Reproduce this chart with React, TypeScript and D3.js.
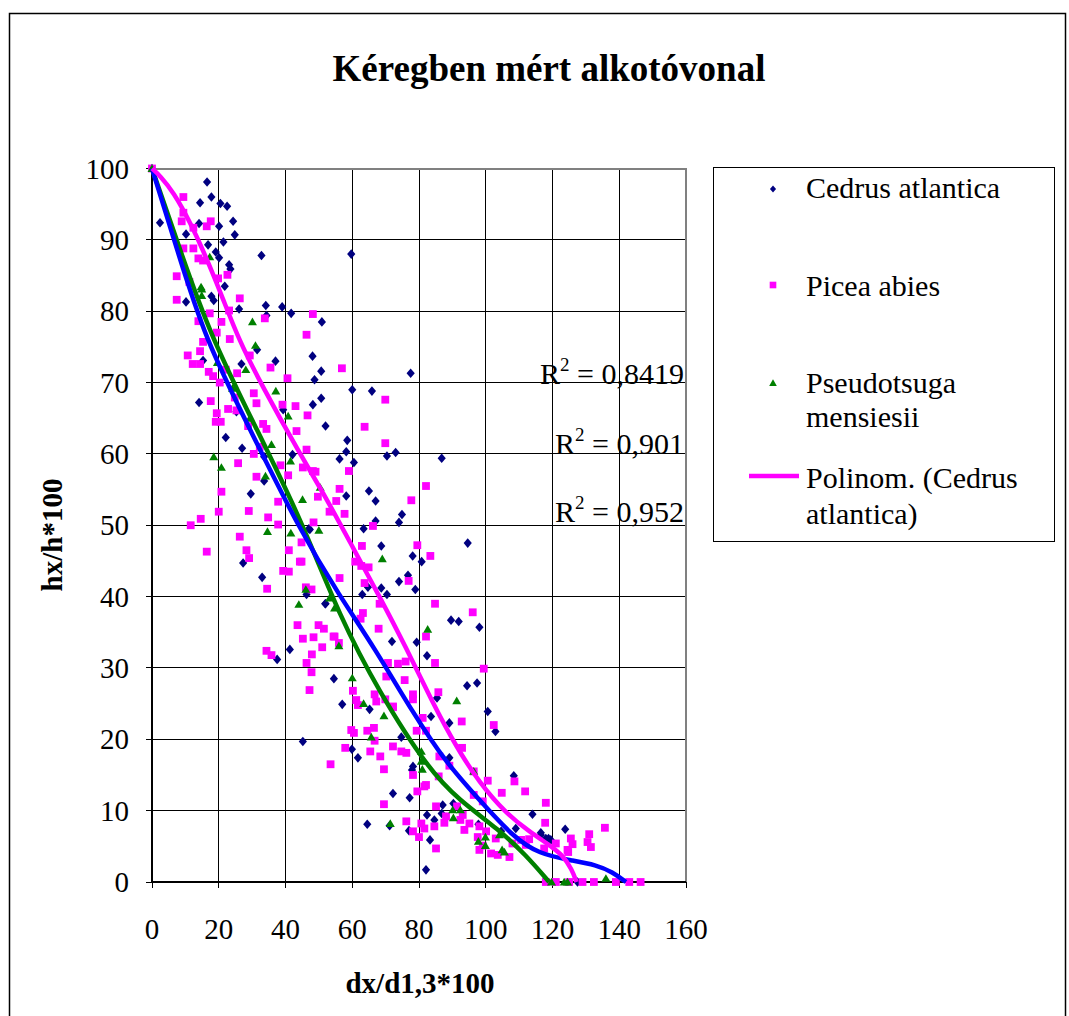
import React from "react";
import * as d3 from "d3";

// series values: [dx/d1,3*100, hx/h*100]
const cedrus: [number, number][] = [
  [0, 100], [16.5, 98.1], [17.8, 96], [14.4, 95.2], [20.5, 95.1], [22.5, 94.7], [2.4, 92.4], [14.1, 92.3],
  [24.3, 92.6], [20.1, 91.9], [24.8, 90.7], [10.2, 90.8], [16.8, 89.3], [21.4, 89.7], [19.1, 88.3], [20.1, 87.5],
  [32.8, 87.8], [23.1, 86.5], [23.5, 85.9], [21.8, 83.5], [17.8, 82.1], [18.5, 81.5], [10.2, 81.3], [26.1, 80.3],
  [34.1, 80.8], [39, 80.6], [41.7, 79.7], [34.3, 79.4], [50.9, 78.5], [31.5, 74.6], [15.3, 73.1], [26.8, 72.6],
  [37, 73], [48.1, 73.7], [48.7, 70.4], [14.1, 67.2], [39.3, 66.2], [48.2, 66.9], [25.3, 65.9], [22.1, 62.3],
  [27, 60.8], [33.6, 59.6], [42.1, 59.9], [33.6, 56.2], [29.6, 54.4], [59.7, 88], [50.7, 71.6], [77.5, 71.3],
  [60, 69], [65.9, 68.8], [50.7, 67.8], [52, 63.9], [58.5, 61.9], [58.2, 60.3], [70.4, 59.7], [73, 60.2],
  [86.8, 59.4], [56.2, 59.3], [60.5, 58.8], [65, 54.8], [67, 53.4], [58.2, 54.1], [74.9, 51.5], [74, 50.4],
  [67, 50.6], [63.4, 49.5], [47.3, 49.4], [94.6, 47.5], [68.7, 47.1], [78.1, 45.7], [80.8, 44.9], [76.7, 43],
  [74, 42.1], [64.7, 41.3], [78.9, 41], [46.3, 40.3], [63, 40.3], [68.7, 41.2], [70.4, 40.3], [52, 39],
  [89.6, 36.7], [91.9, 36.5], [98.1, 35.7], [71.9, 33.7], [79.3, 33.6], [27.3, 44.7], [33, 42.7], [47, 49.5],
  [51.9, 39], [41.3, 32.6], [37.5, 31.2], [54.5, 28.5], [57, 24.9], [65.2, 24.2], [45.2, 19.7], [59.9, 18.6],
  [61.7, 17.4], [72.2, 12.4], [64.5, 8.1], [71.2, 7.9], [82.4, 31.7], [94.4, 27.5], [97.4, 27.9], [85.4, 25.8],
  [83.6, 23.2], [100.6, 23.9], [102.9, 21.1], [89.1, 22.3], [74.7, 20.3], [89.1, 17.4], [78.2, 16.2], [77.9, 15.7],
  [108.4, 14.9], [77.2, 11.8], [87.1, 10.8], [90.3, 11], [82.4, 9.4], [84.6, 8.7], [86.8, 9.6], [77, 7.2],
  [83.3, 5.9], [82.1, 1.7], [97.8, 8.1], [104.6, 7.1], [109, 7.5], [114, 9.5], [116.5, 6.9], [118.8, 6.1],
  [119.5, 5.9], [123.8, 7.4], [116.5, 6.6], [118, 6.1], [127.5, 0],
];

const picea: [number, number][] = [
  [0, 100], [9.4, 96], [9.4, 93.8], [8.9, 92.6], [12.4, 91.7], [16.4, 91.9], [17.6, 92.6], [9.4, 88.8],
  [12.4, 88.8], [13.9, 87.4], [15.3, 87.1], [19.8, 84.6], [22.6, 85.1], [7.4, 84.9], [11.2, 84.1], [7.4, 81.6],
  [26.3, 81.8], [23.1, 80.1], [17.3, 79.7], [13.9, 78.6], [20.8, 78.5], [33.8, 79], [48.2, 79.6], [46.3, 76.7],
  [19.4, 77], [15.3, 75.7], [23.3, 76.1], [10.7, 73.8], [14.4, 74.4], [12.2, 72.6], [14.4, 72.6], [29.3, 73.8],
  [35.5, 72.1], [17, 71.5], [18.3, 70.9], [22.1, 71.8], [25.5, 71.3], [40.6, 70.6], [20.3, 70], [24.8, 67.9],
  [30.5, 68.5], [17.6, 67.4], [31.3, 67.1], [22.8, 66.3], [25.3, 66.1], [39.1, 66.9], [43, 66.7], [19.4, 65.7],
  [19.1, 64.5], [20.6, 64.5], [28.8, 63.9], [33.3, 64.2], [34.3, 63.5], [46.6, 65.4], [43.3, 63.2], [32.3, 61],
  [30.5, 60], [46.3, 60.6], [25.8, 58.7], [38.5, 58.4], [40.8, 57], [31.3, 56.8], [45.2, 58.1], [48.2, 57.6],
  [20.8, 54.7], [37.8, 53.3], [20, 51.9], [29, 52], [34.8, 51.1], [11.6, 50], [14.6, 50.9], [37.8, 50.1],
  [48.4, 50.4], [56.9, 72], [69.9, 67.6], [63.7, 63.8], [69.9, 61.5], [59, 57.6], [49, 57.5], [82.1, 55.5],
  [56.2, 55.1], [49.7, 54], [55.2, 53.4], [53.2, 51.9], [57.7, 51.6], [77.7, 53.5], [66.2, 49.9], [79.5, 47.2],
  [62.9, 47.1], [83.4, 45.7], [60.9, 44.9], [62.7, 44.3], [64.9, 44.1], [44.8, 47.6], [44.8, 44.9], [56.2, 42.6],
  [76.9, 42.2], [63.7, 41.9], [46.1, 41.3], [47.8, 41], [68.2, 39], [84.8, 39], [96.1, 37.8], [63.2, 37.7],
  [62.5, 36.9], [49.9, 36], [51.5, 35.5], [67.9, 35.5], [82.1, 34.4], [45.2, 34.1], [48.4, 34.3], [54.4, 34.4],
  [56, 33.5], [51, 32.9], [26.3, 48.4], [16.4, 46.3], [28.3, 46.5], [29.1, 45.4], [34.5, 41.1], [41, 46.5],
  [44.3, 44.9], [39.3, 43.6], [41, 43.5], [43.6, 36], [54.7, 34.4], [34.3, 32.4], [35.8, 31.8], [47.9, 31.9],
  [46.3, 30.7], [47.8, 29.4], [47.2, 26.9], [60.2, 26.8], [61.2, 25.5], [61.7, 24.8], [66.7, 26.3], [67.2, 25.3],
  [69.9, 25.6], [72.2, 24.6], [59.7, 21.3], [60.5, 20.9], [64.5, 21.2], [66.5, 21.6], [66.7, 19.8], [57.9, 18.8],
  [65.4, 18.3], [68.4, 17.6], [69.5, 15.8], [72.2, 19], [53.5, 16.5], [69.5, 10.9], [70.7, 30.7], [73.7, 30.6],
  [76, 30.9], [84.8, 30.7], [99.4, 29.9], [85.8, 26.6], [70.2, 28.8], [75.7, 28.3], [78.2, 26.3], [78.2, 25.6],
  [72.2, 24.5], [81.1, 23], [102.4, 22], [92.8, 22.5], [79.3, 21.2], [82.1, 21.2], [92.9, 18.8], [74.7, 18.3],
  [76.2, 18.1], [86.1, 17.6], [89.1, 16.3], [78.2, 15], [82.1, 13.6], [85.9, 14.8], [96.4, 15.5], [100.6, 14.2],
  [108.6, 14.1], [104.8, 12.5], [111.8, 12.7], [79.5, 12.7], [81.6, 13.4], [118, 11.1], [96.4, 12.2], [99.1, 11.3],
  [85.1, 10.6], [91.4, 10.6], [93.1, 9.4], [88.1, 9.2], [76.2, 8.5], [80.7, 8.2], [78.2, 7.1], [80, 6.3],
  [81.6, 7.5], [84.6, 7.8], [85.1, 4.7], [87.6, 8.3], [92.4, 8.7], [95.1, 8.2], [93.6, 7.3], [98.1, 7.8],
  [97.6, 6.3], [100.1, 7.1], [103, 6.1], [99.1, 5.1], [98.1, 4.5], [101.6, 4], [103.6, 3.8], [107.1, 3.5],
  [108, 5.4], [110.6, 5.9], [113, 6], [112, 5.2], [117.5, 4.7], [121, 5.4], [124.5, 4.5], [125.5, 6.1],
  [117.8, 8.3], [126, 5.3], [124.7, 4.2], [131, 6.7], [130.5, 5.6], [131.5, 4.9], [135.7, 7.6],
  [118, 0], [121, 0], [125, 0], [129, 0], [132.4, 0], [139, 0], [143, 0], [146.4, 0],
];

const pseudotsuga: [number, number][] = [
  [0, 100], [17.3, 87.6], [14.7, 83.4], [14.9, 83.1], [14.9, 82.2], [30.1, 78.5], [31, 75.2], [28.1, 71.8],
  [19.6, 72.8], [24.1, 69.2], [37.1, 68.8], [29.3, 65], [40.8, 65.3], [35.8, 61.3], [41.5, 59], [18.5, 59.6],
  [20.8, 58.1], [34, 56.9], [45.1, 53.6], [50, 49.3], [50.4, 55.3], [69, 45.3], [46.1, 41], [53.2, 39.8],
  [54.7, 38.4], [82.6, 35.4], [56, 33.1], [34.6, 49.1], [41.6, 48.9], [44, 38.9], [60, 28.6], [63.4, 25],
  [69.5, 23.3], [65.7, 20.3], [71.4, 8.2], [91.3, 25.4], [96.4, 15.5], [80.7, 18.3], [80.7, 16.9], [81, 15.8],
  [90.1, 10.1], [92.4, 10.1], [90.3, 9], [97.8, 5.7], [99.9, 6.3], [99.9, 5.1], [104.1, 6.6], [104.9, 4.5],
  [105.6, 4.2], [119.7, 0], [123.5, 0], [124.5, 0], [136, 0.5],
];

// polynomial trendlines
const trendMagenta: [number, number][] = [
  [0, 100], [2.4, 99], [6.4, 96.7], [11.4, 92.5], [16.4, 87.4], [21.3, 81.7], [26, 76], [33, 69.5],
  [44.3, 60], [52, 54], [60.5, 46.6], [68.2, 40], [76.2, 32.8], [84.1, 25.1], [91.1, 19], [98.1, 13.9],
  [106.1, 9.6], [113, 7.1], [119, 5.2], [123, 3.8], [125.8, 1.8], [127.2, 0],
];
const trendBlue: [number, number][] = [
  [0, 100], [7.4, 88.8], [15.9, 76.1], [29.3, 63.5], [44.3, 49.3], [56.2, 40.1], [66.7, 32.8], [78.2, 23.7],
  [88.1, 16.7], [98.1, 11.5], [108, 6.4], [116, 3.9], [126, 3], [133, 2.4], [138, 1.4], [142, 0],
];
const trendGreen: [number, number][] = [
  [0, 100], [8.4, 88.6], [17.3, 76.8], [31.3, 63.5], [44.5, 51], [56.2, 37.2], [68.2, 26.5], [83, 15.7],
  [92, 11.5], [104, 7.3], [112, 3.8], [119, 0],
];

const xTicks = [0, 20, 40, 60, 80, 100, 120, 140, 160];
const yTicks = [0, 10, 20, 30, 40, 50, 60, 70, 80, 90, 100];
const r2Labels = ["0,8419", "0,901", "0,952"];
const legendNames = ["Cedrus atlantica", "Picea abies", "Pseudotsuga", "mensiesii"];

const serif = "'Liberation Serif', 'Times New Roman', serif";
const navy = "#000080";
const magenta = "#FF00FF";
const green = "#008000";

const diamond = "M0,-4.8L4.1,0L0,4.8L-4.1,0Z";
const square = "M-3.9,-3.9H3.9V3.9H-3.9Z";
const triangle = "M0,-4.3L4.5,3.4H-4.5Z";

const App = () => {
  const x = d3.scaleLinear().domain([0, 160]).range([152, 686]);
  const y = d3.scaleLinear().domain([0, 100]).range([882, 168.5]);
  const line = d3.line<[number, number]>()
    .x(d => x(d[0]))
    .y(d => y(d[1]))
    .curve(d3.curveBasis);

  const points = (data: [number, number][], path: string, color: string) =>
    data.map((d, i) => (
      <path key={i} d={path} transform={`translate(${x(d[0])},${y(d[1])})`} fill={color} />
    ));

  return (
    <svg width={1069} height={1016} style={{ position: "absolute", left: 0, top: 0, background: "#fff" }}
      fontFamily={serif}>
      <rect x={9.5} y={13.5} width={1056} height={1010} fill="#fff" stroke="#000" strokeWidth={1.5} />

      <text x={549} y={81} textAnchor="middle" fontSize={37} fontWeight="bold">Kéregben mért alkotóvonal</text>

      {/* grid */}
      <g shapeRendering="crispEdges">
        {xTicks.map(t => (
          <line key={"gx" + t} x1={x(t)} x2={x(t)} y1={y(0)} y2={y(100)} stroke="#000" strokeWidth={1} />
        ))}
        {yTicks.map(t => (
          <line key={"gy" + t} x1={x(0)} x2={x(160)} y1={y(t)} y2={y(t)} stroke="#000" strokeWidth={1} />
        ))}
        <rect x={x(0)} y={y(100)} width={x(160) - x(0)} height={y(0) - y(100)} fill="none" stroke="#808080" strokeWidth={2} />
        {/* axes */}
        <line x1={x(0)} x2={x(0)} y1={y(0)} y2={y(100)} stroke="#000" strokeWidth={1.5} />
        <line x1={x(0)} x2={x(160)} y1={y(0)} y2={y(0)} stroke="#000" strokeWidth={1.5} />
        {yTicks.map(t => (
          <line key={"ty" + t} x1={x(0) - 6} x2={x(0)} y1={y(t)} y2={y(t)} stroke="#000" strokeWidth={1} />
        ))}
        {xTicks.map(t => (
          <line key={"tx" + t} x1={x(t)} x2={x(t)} y1={y(0)} y2={y(0) + 6} stroke="#000" strokeWidth={1} />
        ))}
      </g>

      {yTicks.map(t => (
        <text key={"ly" + t} x={129} y={y(t) + 10} textAnchor="end" fontSize={29}>{t}</text>
      ))}
      {xTicks.map(t => (
        <text key={"lx" + t} x={x(t)} y={939} textAnchor="middle" fontSize={29}>{t}</text>
      ))}

      <text x={420} y={993} textAnchor="middle" fontSize={29} fontWeight="bold">dx/d1,3*100</text>
      <text transform="translate(62,535) rotate(-90)" textAnchor="middle" fontSize={29} fontWeight="bold">hx/h*100</text>

      {/* points */}
      <g>{points(cedrus, diamond, navy)}</g>
      <g>{points(picea, square, magenta)}</g>
      <g>{points(pseudotsuga, triangle, green)}</g>

      {/* trendlines */}
      <path d={line(trendGreen) || ""} fill="none" stroke={green} strokeWidth={4.5} />
      <path d={line(trendBlue) || ""} fill="none" stroke="#0000FF" strokeWidth={4.5} />
      <path d={line(trendMagenta) || ""} fill="none" stroke={magenta} strokeWidth={4.5} />

      {/* R² labels */}
      {r2Labels.map((r, i) => (
        <text key={r} x={684} y={[384, 454, 522][i]} textAnchor="end" fontSize={30}>
          R<tspan dy={-13} fontSize={19}>2</tspan><tspan dy={13}> = {r}</tspan>
        </text>
      ))}

      {/* legend */}
      <rect x={713.5} y={167.5} width={341} height={374} fill="#fff" stroke="#000" strokeWidth={1} />
      <path d={diamond} transform="translate(773,189) scale(0.75)" fill={navy} />
      <path d={square} transform="translate(773,285) scale(0.85)" fill={magenta} />
      <path d={triangle} transform="translate(773,383) scale(0.85)" fill={green} />
      <line x1={749} x2={799} y1={476} y2={476} stroke={magenta} strokeWidth={4.5} />
      <g fontSize={30}>
        <text x={806} y={198}>{legendNames[0]}</text>
        <text x={806} y={296}>{legendNames[1]}</text>
        <text x={806} y={393}>{legendNames[2]}</text>
        <text x={806} y={427}>{legendNames[3]}</text>
        <text x={806} y={488}>Polinom. (Cedrus</text>
        <text x={806} y={524}>atlantica)</text>
      </g>
    </svg>
  );
};

export default App;
